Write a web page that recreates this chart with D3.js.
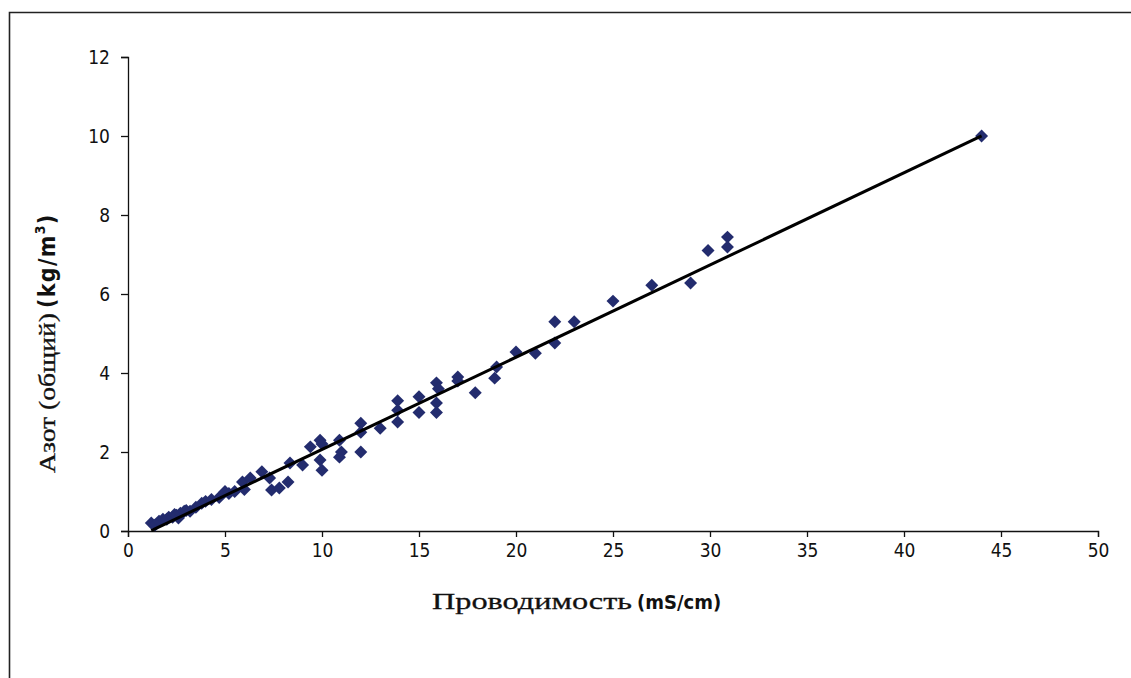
<!DOCTYPE html>
<html>
<head>
<meta charset="utf-8">
<script src="https://cdn.jsdelivr.net/npm/d3@7"></script>
<style>
  body { margin: 0; background: #fff; }
  svg { display: block; }
</style>
</head>
<body>
<div id="chart"></div>
<script>
// conductivity, mS/cm
var conductivity = [1.2, 1.4, 1.6, 1.8, 2.0, 2.1, 2.3, 2.4, 2.5, 2.6, 2.7, 2.9, 3.0, 3.2, 3.5, 3.8,
    4.0, 4.3, 4.7, 5.0, 5.2, 5.5, 5.9, 6.0, 6.3, 6.9, 7.3, 7.4, 7.8, 8.25, 8.35, 9.0, 9.4,
    9.9, 9.9, 10.0, 10.0, 10.9, 10.9, 11.0,
    12.0, 12.0, 12.0, 13.0, 13.9, 13.9, 13.9, 15.0, 15.0,
    15.9, 15.9, 15.9, 16.0, 17.0, 17.0, 17.9, 18.9, 19.0, 20.0, 21.0,
    22.0, 22.0, 23.0, 25.0, 27.0, 29.0, 29.9, 30.9, 30.9, 44.0];
// total nitrogen, kg/m3
var nitrogen = [0.2, 0.15, 0.25, 0.3, 0.3, 0.35, 0.35, 0.42, 0.4, 0.33, 0.45, 0.5, 0.52, 0.5, 0.6, 0.7,
    0.75, 0.8, 0.85, 1.0, 0.95, 1.0, 1.24, 1.05, 1.34, 1.5, 1.34, 1.04, 1.09, 1.24, 1.72, 1.67, 2.13,
    2.3, 1.8, 2.2, 1.54, 2.3, 1.87, 2.0,
    2.73, 2.5, 2.0, 2.6, 3.3, 3.06, 2.76, 3.4, 3.0,
    3.75, 3.24, 3.0, 3.6, 3.9, 3.8, 3.5, 3.87, 4.15, 4.53, 4.5,
    5.3, 4.76, 5.3, 5.82, 6.22, 6.28, 7.1, 7.44, 7.19, 10.0];

// linear trendline as drawn on the chart
var trendSlope = 0.2335, trendIntercept = -0.27;

var xTicks = [0, 5, 10, 15, 20, 25, 30, 35, 40, 45, 50];
var yTicks = [0, 2, 4, 6, 8, 10, 12];

var W = 1131, H = 678;
var margin = {top: 57, left: 128, right: 33, bottom: 147};
var width = W - margin.left - margin.right,
    height = H - margin.top - margin.bottom;

var svg = d3.select("#chart").append("svg")
    .attr("width", W)
    .attr("height", H);

// outer frame (only left and top edges are visible)
svg.append("path")
    .attr("d", "M9.5," + H + "V12.5H" + W)
    .attr("fill", "none")
    .attr("stroke", "#222")
    .attr("stroke-width", 1.6);

var g = svg.append("g")
    .attr("transform", "translate(" + margin.left + "," + margin.top + ")");

var x = d3.scaleLinear().domain([0, 50]).range([0, width]);
var y = d3.scaleLinear().domain([0, 12]).range([height, 0]);

var tickFont = "'DejaVu Sans Condensed', 'DejaVu Sans', sans-serif";

var xAxis = g.append("g")
    .attr("transform", "translate(0," + height + ")")
    .call(d3.axisBottom(x).tickValues(xTicks).tickSize(6).tickPadding(7).tickSizeOuter(6));
var yAxis = g.append("g")
    .call(d3.axisLeft(y).tickValues(yTicks).tickSize(7).tickPadding(11).tickSizeOuter(7));

[xAxis, yAxis].forEach(function (a) {
    a.selectAll("path, line").attr("stroke", "#111").attr("stroke-width", 1.3);
    a.selectAll("text")
        .style("font-family", tickFont)
        .style("font-size", "19px")
        .attr("fill", "#111");
});

var points = conductivity.map(function (c, i) { return [c, nitrogen[i]]; });
var xr = d3.extent(conductivity);

g.selectAll(".pt")
    .data(points)
    .enter().append("path")
    .attr("class", "pt")
    .attr("d", d3.symbol().type(d3.symbolSquare).size(84))
    .attr("transform", function (d) {
        return "translate(" + x(d[0]) + "," + y(d[1]) + ") rotate(45)";
    })
    .attr("fill", "#232c6e");

g.append("line")
    .attr("x1", x(xr[0])).attr("y1", y(trendSlope * xr[0] + trendIntercept))
    .attr("x2", x(xr[1])).attr("y2", y(trendSlope * xr[1] + trendIntercept))
    .attr("stroke", "#000")
    .attr("stroke-width", 3);

// axis titles: serif words followed by bold condensed units
var serif = "'Liberation Serif', 'Times New Roman', serif";
var unitFont = "'DejaVu Sans Condensed', 'Liberation Sans Narrow', sans-serif";

function title(parent, word, unit, sup, wordLen, unitSize, spacing) {
    var t = parent.append("text").attr("fill", "#111");
    t.append("tspan")
        .style("font-family", serif)
        .style("font-size", "24px")
        .attr("stroke", "#111")
        .attr("stroke-width", 0.3)
        .attr("textLength", wordLen)
        .attr("lengthAdjust", "spacingAndGlyphs")
        .text(word);
    var unitStyle = function (s, size) {
        return s.style("font-family", unitFont)
            .style("font-size", size + "px")
            .style("font-weight", "bold")
            .style("letter-spacing", spacing + "px");
    };
    unitStyle(t.append("tspan"), unitSize)
        .attr("dx", 5)
        .text(unit);
    if (sup) {
        unitStyle(t.append("tspan"), 14)
            .attr("dy", -10)
            .text(sup);
        unitStyle(t.append("tspan"), unitSize)
            .attr("dy", 10)
            .text(")");
    }
    return t;
}

title(svg, "Проводимость", "(mS/cm)", null, 200, 20, 0)
    .attr("x", 432).attr("y", 609);

title(svg, "Азот (общий)", "(kg/m", "3", 160, 23, 1.3)
    .attr("transform", "translate(55,473) rotate(-90)");
</script>
</body>
</html>
